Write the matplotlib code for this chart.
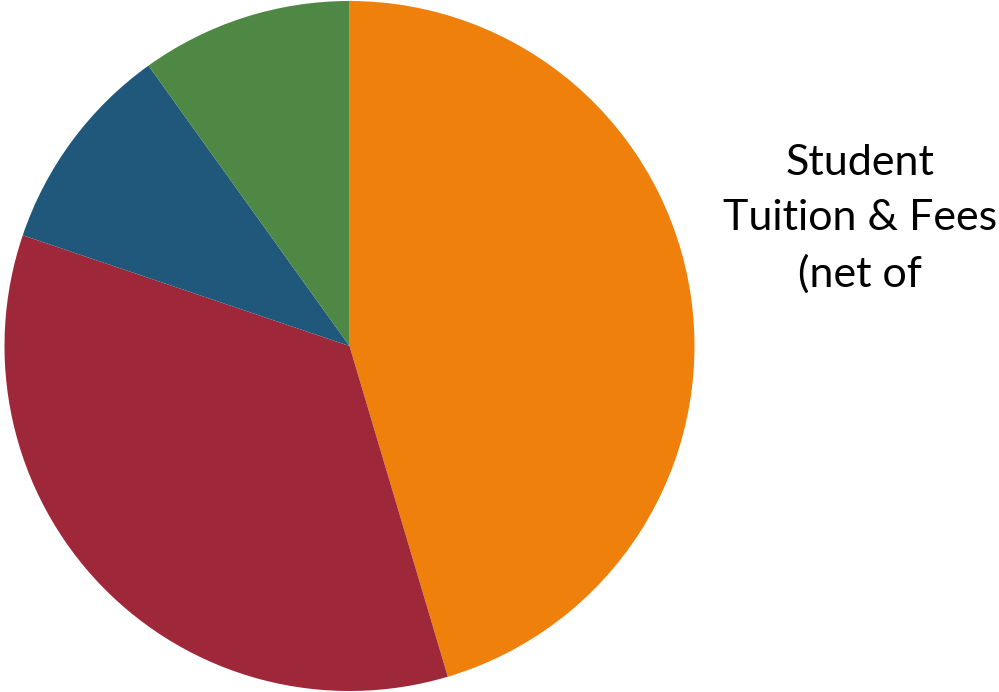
import matplotlib
matplotlib.use("Agg")
import matplotlib.pyplot as plt

# slice shares (percent), clockwise from 12 o'clock
labels = ["Student Tuition & Fees (net of", "State", "Other", "Gifts"]
shares = [45.4, 34.8, 9.9, 9.9]
colors = ["#EF800B", "#9E2839", "#1F587B", "#4F8744"]

fig = plt.figure(figsize=(9.99, 6.92), dpi=100)

# pie axes placed in pixels: centre (349.5, 346), radius 345
W, H = 999, 692
cx, cy, r = 349.5, 346, 345
ax = fig.add_axes([(cx - r) / W, (H - cy - r) / H, 2 * r / W, 2 * r / H])
ax.pie(shares, colors=colors, startangle=90, counterclock=False,
       radius=1, wedgeprops=dict(linewidth=0))
ax.set_xlim(-1, 1)
ax.set_ylim(-1, 1)
ax.set_aspect("equal")
ax.axis("off")

# label for the big slice, cut off as in the original
fig.text(860 / W, 1 - 219 / H, "Student\nTuition & Fees\n(net of",
         ha="center", va="center", fontsize=31, family="Lato",
         linespacing=1.55, color="#000000")

fig.savefig("out.png", dpi=100)
